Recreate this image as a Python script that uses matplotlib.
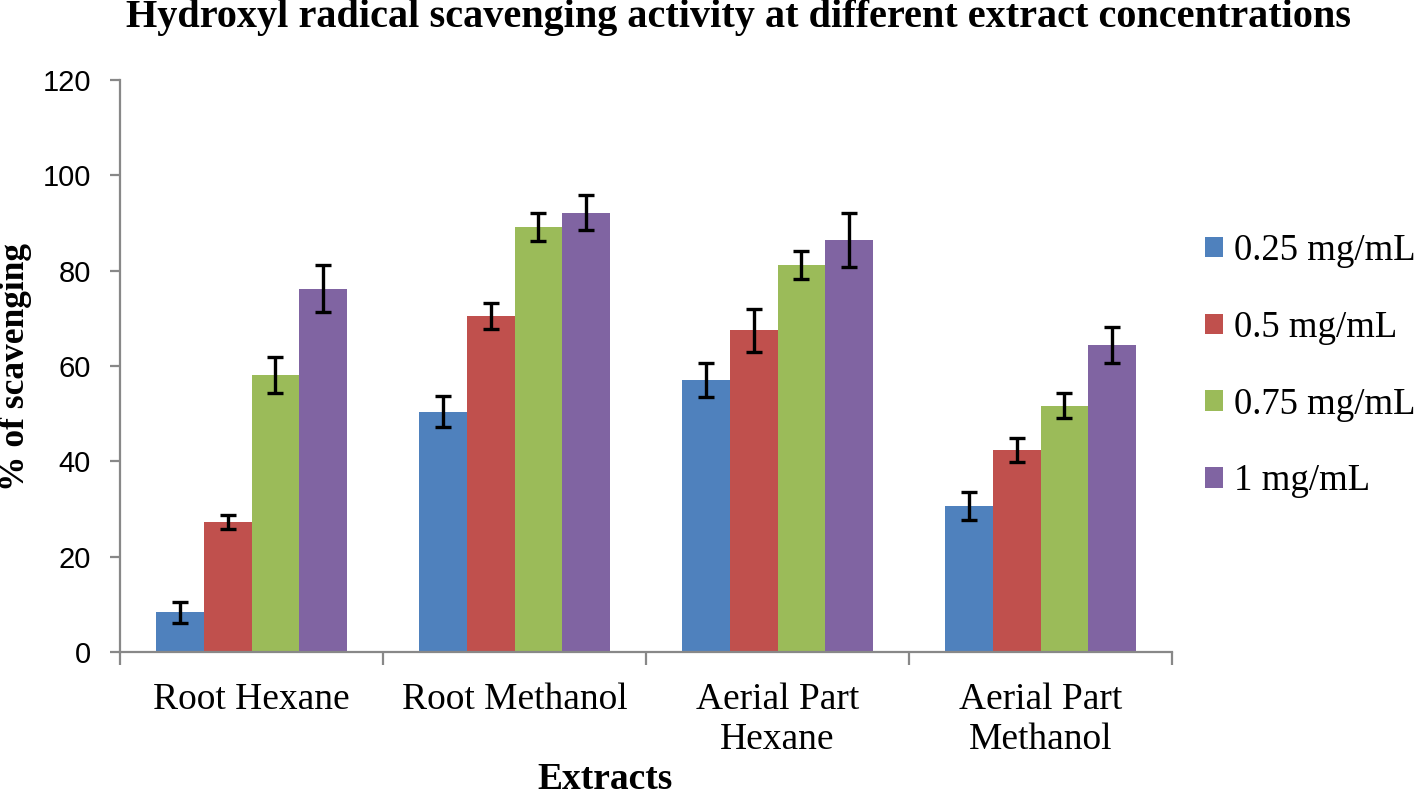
import numpy as np
import matplotlib.pyplot as plt
from matplotlib.ticker import FixedLocator

extracts = ['Root Hexane', 'Root Methanol', 'Aerial Part\nHexane', 'Aerial Part\nMethanol']
conc = ['0.25 mg/mL', '0.5 mg/mL', '0.75 mg/mL', '1 mg/mL']

v025 = [8.3, 50.4, 57.1, 30.6]
v05 = [27.2, 70.5, 67.5, 42.4]
v075 = [58.1, 89.2, 81.2, 51.7]
v1 = [76.2, 92.2, 86.4, 64.4]

e025 = [2.2, 3.3, 3.6, 2.9]
e05 = [1.5, 2.7, 4.5, 2.5]
e075 = [3.7, 3.0, 3.0, 2.7]
e1 = [4.9, 3.7, 5.7, 3.7]

colors = ['#4F81BD', '#C0504D', '#9BBB59', '#8064A2']

serif = 'Liberation Serif'
sans = 'Liberation Sans'

fig = plt.figure(figsize=(14.18, 7.98), dpi=100)
ax = fig.add_axes([120/1418, 1-652/798, 1052/1418, 572/798])

x = np.arange(len(extracts))
w = 0.1825
vals = [v025, v05, v075, v1]
errs = [e025, e05, e075, e1]
for j in range(4):
    ax.bar(x + (j-1.5)*w, vals[j], w, color=colors[j], label=conc[j], zorder=2)
    ax.errorbar(x + (j-1.5)*w, vals[j], yerr=errs[j], fmt='none', ecolor='black',
                elinewidth=2.4, capsize=5.5, capthick=2.4, zorder=3)

ax.set_xlim(-0.5, 3.5)
ax.set_ylim(0, 120)
ax.set_yticks(range(0, 121, 20))
for s in ['top', 'right']:
    ax.spines[s].set_visible(False)
for s in ['left', 'bottom']:
    ax.spines[s].set_color('#888888')
    ax.spines[s].set_linewidth(1.6)
ax.tick_params(axis='y', length=7, width=1.6, color='#888888', pad=14, labelsize=21)
for t in ax.get_yticklabels():
    t.set_fontfamily(sans)

ax.set_xticks(x)
ax.set_xticklabels(extracts, fontfamily=serif, fontsize=27)
for t in ax.get_xticklabels():
    t.set_linespacing(1.2)
ax.tick_params(axis='x', which='major', length=0, pad=22)
ax.xaxis.set_minor_locator(FixedLocator([-0.5, 0.5, 1.5, 2.5, 3.5]))
ax.tick_params(axis='x', which='minor', length=9, width=1.6, color='#888888')

leg = ax.legend(loc='center left', bbox_to_anchor=(1.0, 0.5), frameon=False,
                prop={'family': serif, 'size': 26.5}, handlelength=0.48, handleheight=0.48,
                handletextpad=0.3, labelspacing=1.15)

fig.text(739/1418, 1-18/798, 'Hydroxyl radical scavenging activity at different extract concentrations',
         ha='center', va='center', fontfamily=serif, fontweight='bold', fontsize=29)
fig.text(16/1418, 1-367/798, '% of scavenging', rotation=90, ha='center', va='center',
         fontfamily=serif, fontweight='bold', fontsize=25.5)
fig.text(605/1418, 1-789/798, 'Extracts', ha='center', va='baseline',
         fontfamily=serif, fontweight='bold', fontsize=27)

fig.savefig('out.png', dpi=100)
